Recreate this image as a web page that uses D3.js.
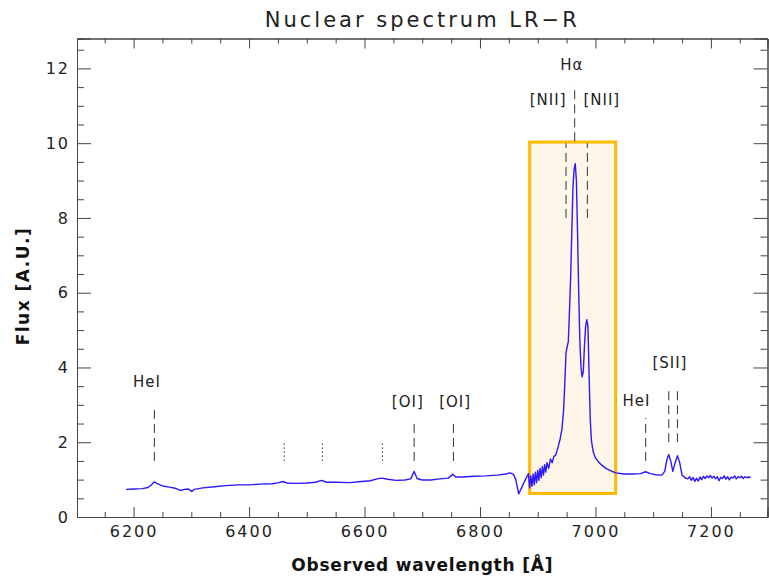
<!DOCTYPE html>
<html>
<head>
<meta charset="utf-8">
<script src="https://cdn.jsdelivr.net/npm/d3@7"></script>
<style>
  html, body { margin: 0; padding: 0; background: #fff; }
  svg { display: block; }
</style>
</head>
<body>
<svg id="chart" width="769" height="578"></svg>
<script>
// Spectrum (wavelength in Å, flux in A.U.)
const wavelength = [
  6187, 6200, 6215, 6225, 6231, 6236, 6241, 6250, 6262, 6272, 6281, 6288, 6295, 6301, 6305,
  6320, 6340, 6360, 6380, 6400, 6420, 6440, 6452, 6458, 6466, 6480, 6500, 6515, 6526, 6534,
  6550, 6575, 6595, 6610, 6622, 6630, 6640, 6655, 6670, 6680, 6686, 6691, 6700, 6715, 6730,
  6745, 6753, 6758, 6770, 6790, 6810, 6830, 6845, 6852, 6858, 6862, 6867, 6872, 6878, 6884,
  6886, 6888, 6890, 6892, 6894, 6896, 6898, 6900, 6902, 6904, 6906, 6908, 6910, 6912, 6914,
  6916, 6919, 6922, 6925, 6928, 6931, 6935, 6939, 6942, 6945, 6947, 6949, 6951, 6953, 6955,
  6957, 6959, 6961, 6963, 6965, 6967, 6969, 6971, 6973, 6975, 6977, 6979, 6981, 6983, 6985,
  6987, 6989, 6991, 6993, 6996, 7000, 7005, 7010, 7018, 7025, 7035, 7050, 7065, 7078, 7087,
  7095, 7105, 7115, 7120, 7124, 7127, 7130, 7134, 7138, 7142, 7146, 7150, 7155, 7160, 7163,
  7166, 7169, 7172, 7175, 7178, 7181, 7184, 7187, 7190, 7193, 7196, 7199, 7202, 7205, 7208,
  7211, 7214, 7217, 7220, 7223, 7226, 7229, 7232, 7235, 7238, 7241, 7244, 7247, 7250, 7253,
  7256, 7259, 7262, 7265, 7269
];
const flux = [
  0.74, 0.75, 0.76, 0.79, 0.86, 0.94, 0.89, 0.83, 0.80, 0.77, 0.71, 0.74, 0.75, 0.68, 0.74,
  0.78, 0.81, 0.84, 0.86, 0.86, 0.88, 0.89, 0.92, 0.95, 0.91, 0.90, 0.91, 0.93, 0.98, 0.93,
  0.93, 0.92, 0.95, 0.97, 1.02, 1.04, 1.01, 0.98, 0.99, 1.02, 1.22, 1.03, 0.99, 0.99, 1.02,
  1.04, 1.14, 1.07, 1.07, 1.09, 1.10, 1.12, 1.15, 1.18, 1.14, 1.00, 0.62, 0.78, 0.98, 1.16,
  0.78, 1.10, 0.82, 1.15, 0.86, 1.20, 0.92, 1.25, 0.98, 1.30, 1.05, 1.35, 1.12, 1.40, 1.20,
  1.45, 1.30, 1.55, 1.45, 1.62, 1.65, 1.85, 2.10, 2.35, 2.90, 3.60, 4.40, 4.55, 4.70, 5.50,
  6.40, 7.60, 8.80, 9.30, 9.45, 9.00, 7.60, 6.00, 4.70, 4.00, 3.75, 3.90, 4.60, 5.10, 5.28,
  5.10, 3.80, 2.60, 2.05, 1.75, 1.58, 1.48, 1.40, 1.30, 1.25, 1.18, 1.15, 1.15, 1.16, 1.21,
  1.16, 1.13, 1.12, 1.22, 1.55, 1.67, 1.52, 1.22, 1.45, 1.64, 1.45, 1.12, 1.05, 1.02, 1.08,
  0.98, 1.06, 0.95, 1.04, 0.96, 1.07, 1.00, 1.09, 1.03, 1.10, 1.05, 1.11, 1.04, 1.09, 1.02,
  1.08, 0.97, 1.06, 1.03, 1.10, 1.01, 1.08, 0.99, 1.07, 1.04, 1.10, 1.02, 1.08, 1.05, 1.09,
  1.03, 1.08, 1.05, 1.07, 1.06
];

// Line identifications: wavelength, flux range of the marker, label, label position
const markWave  = [6236, 6461, 6527, 6631, 6686, 6754, 7087, 7127, 7142, 6964, 6949, 6986];
const markFrom  = [1.5, 1.5, 1.5, 1.5, 1.5, 1.5, 1.5, 2.0, 2.0, 10.05, 8.0, 8.0];
const markTo    = [3.0, 2.0, 2.0, 2.0, 2.5, 2.5, 2.65, 3.5, 3.5, 11.55, 10.0, 10.0];
const markKind  = ["dash", "dot", "dot", "dot", "dash", "dash", "dash", "dash", "dash", "dash", "dash", "dash"];

const labelText = ["HeI", "[OI]", "[OI]", "HeI", "[SII]", "[NII]", "[NII]", "Hα"];
const labelWave = [6223, 6675, 6757, 7071, 7129, 6918, 7011, 6959];
const labelFlux = [3.62, 3.08, 3.08, 3.11, 4.12, 11.16, 11.16, 12.1];

// Highlighted region
const boxWave = [6886, 7035];
const boxFlux = [0.63, 10.03];

const xMajor = [6200, 6400, 6600, 6800, 7000, 7200];
const yMajor = [0, 2, 4, 6, 8, 10, 12];

const width = 769, height = 578;
const margin = { top: 38.5, right: 1.5, bottom: 61, left: 77 };
const svg = d3.select("#chart");

const x = d3.scaleLinear().domain([6102, 7298]).range([margin.left, width - margin.right]);
const y = d3.scaleLinear().domain([0, 12.8]).range([height - margin.bottom, margin.top]);

const font = "'DejaVu Sans', sans-serif";
const axisColor = "#444";
const xMinor = d3.range(6150, 7300, 50).filter((v) => !xMajor.includes(v));
const yMinor = d3.range(0.5, 12.8, 0.5).filter((v) => !yMajor.includes(v));

// Highlight box
svg.append("rect")
  .attr("x", x(boxWave[0]))
  .attr("y", y(boxFlux[1]))
  .attr("width", x(boxWave[1]) - x(boxWave[0]))
  .attr("height", y(boxFlux[0]) - y(boxFlux[1]))
  .attr("fill", "#fef7e9")
  .attr("stroke", "#ffb900")
  .attr("stroke-width", 3);

// Spectrum
const data = wavelength.map((w, i) => ({ w, f: flux[i] }));
svg.append("path")
  .datum(data)
  .attr("fill", "none")
  .attr("stroke", "#2d18ff")
  .attr("stroke-width", 1.4)
  .attr("stroke-linejoin", "round")
  .attr("d", d3.line().x((d) => x(d.w)).y((d) => y(d.f)));

// Line markers
markWave.forEach((w, i) => {
  svg.append("line")
    .attr("x1", x(w)).attr("x2", x(w))
    .attr("y1", y(markFrom[i])).attr("y2", y(markTo[i]))
    .attr("stroke", "#333")
    .attr("stroke-width", 1)
    .attr("stroke-dasharray", markKind[i] === "dot" ? "1.5,2.5" : "9,5");
});

labelText.forEach((t, i) => {
  svg.append("text")
    .attr("x", x(labelWave[i]))
    .attr("y", y(labelFlux[i]))
    .attr("text-anchor", "middle")
    .attr("dominant-baseline", "central")
    .attr("fill", "#222")
    .style("font-family", font)
    .style("font-size", "15px")
    .style("letter-spacing", "1px")
    .text(t);
});

// Axes (ticks pointing inward)
function styleAxis(g) {
  g.select(".domain").attr("stroke", axisColor);
  g.selectAll(".tick line").attr("stroke", axisColor);
  g.selectAll("text")
    .attr("fill", "#222")
    .style("font-family", font)
    .style("font-size", "16px")
    .style("letter-spacing", "2px");
}

const bottom = height - margin.bottom;
const right = width - margin.right;

svg.append("g").attr("transform", `translate(0,${bottom})`)
  .call(d3.axisBottom(x).tickValues(xMajor).tickSize(-10).tickPadding(9).tickFormat(d3.format("d")))
  .call(styleAxis);
svg.append("g").attr("transform", `translate(0,${bottom})`)
  .call(d3.axisBottom(x).tickValues(xMinor).tickSize(-5).tickFormat(""))
  .call(styleAxis);
svg.append("g").attr("transform", `translate(0,${margin.top})`)
  .call(d3.axisTop(x).tickValues(xMajor).tickSize(-10).tickFormat(""))
  .call(styleAxis);
svg.append("g").attr("transform", `translate(0,${margin.top})`)
  .call(d3.axisTop(x).tickValues(xMinor).tickSize(-5).tickFormat(""))
  .call(styleAxis);

svg.append("g").attr("transform", `translate(${margin.left},0)`)
  .call(d3.axisLeft(y).tickValues(yMajor).tickSize(-14).tickPadding(7).tickFormat(d3.format("d")))
  .call(styleAxis);
svg.append("g").attr("transform", `translate(${margin.left},0)`)
  .call(d3.axisLeft(y).tickValues(yMinor).tickSize(-7).tickFormat(""))
  .call(styleAxis);
svg.append("g").attr("transform", `translate(${right},0)`)
  .call(d3.axisRight(y).tickValues(yMajor).tickSize(-14).tickFormat(""))
  .call(styleAxis);
svg.append("g").attr("transform", `translate(${right},0)`)
  .call(d3.axisRight(y).tickValues(yMinor).tickSize(-7).tickFormat(""))
  .call(styleAxis);

// Title and axis titles
svg.append("text")
  .attr("x", (margin.left + right) / 2)
  .attr("y", 27)
  .attr("text-anchor", "middle")
  .attr("fill", "#222")
  .style("font-family", font)
  .style("font-size", "21px")
  .style("letter-spacing", "3px")
  .text("Nuclear spectrum LR−R");

svg.append("text")
  .attr("x", (margin.left + right) / 2)
  .attr("y", 571)
  .attr("text-anchor", "middle")
  .attr("fill", "#111")
  .style("font-family", font)
  .style("font-size", "17px")
  .style("font-weight", "bold")
  .style("letter-spacing", "0.8px")
  .text("Observed wavelength [Å]");

svg.append("text")
  .attr("transform", "translate(29,286) rotate(-90)")
  .attr("text-anchor", "middle")
  .attr("fill", "#111")
  .style("font-family", font)
  .style("font-size", "17px")
  .style("font-weight", "bold")
  .style("letter-spacing", "1.5px")
  .text("Flux [A.U.]");
</script>
</body>
</html>
